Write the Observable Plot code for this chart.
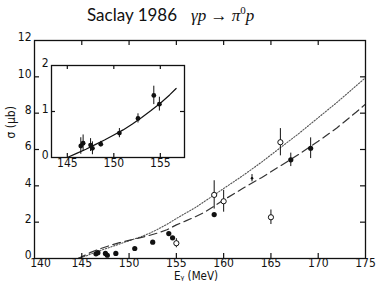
<!DOCTYPE html>
<html>
<head>
<meta charset="utf-8">
<script src="https://cdn.jsdelivr.net/npm/d3@7"></script>
<script src="https://cdn.jsdelivr.net/npm/@observablehq/plot@0.6"></script>
<style>
  html, body { margin: 0; padding: 0; background: #fff; }
  #wrap { position: relative; width: 376px; height: 286px; overflow: hidden; background: #fff; }
  #title { position: absolute; left: 87px; top: 4px; height: 24px; display: flex; align-items: baseline; white-space: nowrap; color: #111; line-height: 22px; }
  #title .t1 { font-family: Lato, "Open Sans", sans-serif; font-size: 17px; }
  #title .t2 { margin-left: 14px; font-family: "Liberation Serif", "DejaVu Serif", serif; font-size: 17px; }
  #title .t2 i { font-style: italic; }
  #title .sup { font-size: 11px; position: relative; top: -7px; }
  #main { position: absolute; left: 0; top: 30px; }
  #inset { position: absolute; left: 30px; top: 60px; }
</style>
</head>
<body>
<div id="wrap">
  <div id="title"><span class="t1">Saclay 1986</span><span class="t2"><i>γp</i> → <i>π</i><span class="sup">0</span><i>p</i></span></div>
  <div id="main"></div>
  <div id="inset"></div>
</div>
<script>
// ---- main plot axes
const xTicksMain = [145, 150, 155, 160, 165, 170, 175];
const xFirstTick = [140];
const xInnerMain = [145, 150, 155, 160, 165, 170];
const yTicksMain = [0, 2, 4, 6, 8, 10, 12];
const yInnerMain = [2, 4, 6, 8, 10];

// ---- main plot data: filled circles
const filledE = [146.5, 146.7, 147.5, 147.7, 148.6, 150.6, 152.5, 154.2, 154.6, 159.0, 167.1, 169.2];
const filledV = [0.26, 0.32, 0.28, 0.18, 0.28, 0.55, 0.9, 1.37, 1.14, 2.42, 5.43, 6.07];
const filledErr = [0, 0, 0, 0, 0, 0, 0, 0, 0, 0, 0.37, 0.57];

// open circles
const openE = [155.0, 159.0, 160.0, 165.0, 166.0];
const openV = [0.84, 3.5, 3.15, 2.27, 6.4];
const openErr = [0.25, 0.78, 0.6, 0.4, 0.75];

// small point
const smallE = [163.0];
const smallV = [4.42];
const smallErr = [0.2];

// curves
const dashedE = [144.6, 145.5, 146, 147, 148, 149, 150, 151, 152, 153, 154, 155, 156, 157, 158, 160, 162, 164, 166, 168, 170, 172, 174, 175];
const dashedV = [0, 0.22, 0.35, 0.55, 0.72, 0.87, 1.0, 1.12, 1.25, 1.4, 1.58, 1.85, 2.07, 2.3, 2.55, 3.22, 3.85, 4.45, 5.1, 5.75, 6.45, 7.2, 8.05, 8.5];
const dottedE = [144.6, 145.5, 146, 147, 148, 149, 150, 151, 152, 153, 154, 155, 156, 157, 158, 160, 162, 164, 166, 168, 170, 172, 174, 175];
const dottedV = [0, 0.15, 0.25, 0.45, 0.62, 0.8, 0.98, 1.15, 1.35, 1.6, 1.88, 2.2, 2.5, 2.8, 3.15, 3.85, 4.55, 5.3, 6.1, 6.9, 7.75, 8.6, 9.5, 9.95];

// ---- inset
const xTicksInset = [145, 150, 155];
const yTicksInset = [0, 1, 2];
const yInnerInset = [1];
const insetE = [146.45, 146.7, 147.5, 147.7, 148.6, 150.6, 152.6, 154.3, 154.9];
const insetV = [0.25, 0.31, 0.27, 0.2, 0.29, 0.53, 0.85, 1.35, 1.16];
const insetErr = [0.18, 0.18, 0.14, 0.14, 0.06, 0.1, 0.1, 0.2, 0.15];
const insetCurveE = [145, 146, 147, 148, 149, 150, 151, 152, 153, 154, 155, 156, 156.7];
const insetCurveV = [0, 0.09, 0.18, 0.28, 0.38, 0.49, 0.6, 0.73, 0.87, 1.02, 1.18, 1.36, 1.5];

const ink = "#111";
const tickFont = '"Liberation Sans Narrow", "DejaVu Sans Condensed", sans-serif';

const rows = (E, V, Err) => E.map((e, i) => ({e, v: V[i], err: Err ? Err[i] : 0}));
const filled = rows(filledE, filledV, filledErr);
const open = rows(openE, openV, openErr);
const small = rows(smallE, smallV, smallErr);
const dashed = rows(dashedE, dashedV);
const dotted = rows(dottedE, dottedV);
const bars = [...filled, ...open, ...small].filter(d => d.err > 0);

const W = 376, H = 256, mT = 10, mB = 28, mL = 34, mR = 11;
const fw = W - mL - mR, fh = H - mT - mB, tl = 5;

const main = Plot.plot({
  width: W, height: H,
  marginTop: mT, marginBottom: mB, marginLeft: mL, marginRight: mR,
  x: {domain: [140, 175]},
  y: {domain: [0, 12]},
  style: {fontFamily: tickFont, fontSize: "12px", color: ink, background: "transparent", overflow: "visible"},
  marks: [
    Plot.line(dotted, {x: "e", y: "v", stroke: "#555", strokeWidth: 1.1, strokeDasharray: "1.3,1.6"}),
    Plot.line(dashed, {x: "e", y: "v", stroke: "#333", strokeWidth: 1.2, strokeDasharray: "8,4.5"}),
    Plot.ruleX(bars, {x: "e", y1: d => d.v - d.err, y2: d => d.v + d.err, stroke: ink, strokeWidth: 1}),
    Plot.dot(filled, {x: "e", y: "v", r: 2.6, fill: ink, stroke: "none"}),
    Plot.dot(open, {x: "e", y: "v", r: 2.6, fill: "white", stroke: ink, strokeWidth: 1}),
    Plot.dot(small, {x: "e", y: "v", r: 1.3, fill: ink, stroke: "none"}),
    Plot.frame({stroke: ink, strokeWidth: 1.3}),
    Plot.tickX(xInnerMain, {x: d => d, insetTop: fh - tl, stroke: ink, strokeWidth: 1.2}),
    Plot.tickX(xInnerMain, {x: d => d, insetBottom: fh - tl, stroke: ink, strokeWidth: 1.2}),
    Plot.tickY(yInnerMain, {y: d => d, insetRight: fw - tl, stroke: ink, strokeWidth: 1.2}),
    Plot.tickY(yInnerMain, {y: d => d, insetLeft: fw - tl, stroke: ink, strokeWidth: 1.2}),
    Plot.axisX({ticks: xTicksMain, tickSize: 0, tickPadding: 0, label: null, tickFormat: d => String(d)}),
    Plot.axisX({ticks: xFirstTick, tickSize: 0, tickPadding: 0, dx: 6, label: null, tickFormat: d => String(d)}),
    Plot.axisY({ticks: yTicksMain, tickSize: 0, tickPadding: 3, label: null, dy: -3, tickFormat: d => String(d)}),
    Plot.text(["σ (μb)"], {frameAnchor: "left", rotate: -90, dx: -23, dy: -11, fontSize: 12, fill: ink}),
    Plot.text(["Eᵧ (MeV)"], {frameAnchor: "bottom", dy: 21.5, dx: -4, fontSize: 11.5, fill: ink})
  ]
});
document.getElementById("main").appendChild(main);

// inset
const iW = 160, iH = 115, iT = 5, iB = 18, iL = 21, iR = 6;
const ifw = iW - iL - iR, ifh = iH - iT - iB, itl = 4;
const ipts = rows(insetE, insetV, insetErr);
const icurve = rows(insetCurveE, insetCurveV);

const inset = Plot.plot({
  width: iW, height: iH,
  marginTop: iT, marginBottom: iB, marginLeft: iL, marginRight: iR,
  x: {domain: [143.3, 157.6]},
  y: {domain: [0, 2]},
  style: {fontFamily: tickFont, fontSize: "12px", color: ink, background: "transparent", overflow: "visible"},
  marks: [
    Plot.line(icurve, {x: "e", y: "v", stroke: ink, strokeWidth: 1.2}),
    Plot.ruleX(ipts, {x: "e", y1: d => d.v - d.err, y2: d => d.v + d.err, stroke: ink, strokeWidth: 1}),
    Plot.dot(ipts, {x: "e", y: "v", r: 2.4, fill: ink, stroke: "none"}),
    Plot.frame({stroke: ink, strokeWidth: 1.3}),
    Plot.tickX(xTicksInset, {x: d => d, insetTop: ifh - itl, stroke: ink, strokeWidth: 1.2}),
    Plot.tickX(xTicksInset, {x: d => d, insetBottom: ifh - itl, stroke: ink, strokeWidth: 1.2}),
    Plot.tickY(yInnerInset, {y: d => d, insetRight: ifw - itl, stroke: ink, strokeWidth: 1.2}),
    Plot.tickY(yInnerInset, {y: d => d, insetLeft: ifw - itl, stroke: ink, strokeWidth: 1.2}),
    Plot.axisX({ticks: xTicksInset, tickSize: 0, tickPadding: 1, label: null, tickFormat: d => String(d)}),
    Plot.axisY({ticks: yTicksInset, tickSize: 0, tickPadding: 3, label: null, dy: -2, tickFormat: d => String(d)})
  ]
});
document.getElementById("inset").appendChild(inset);
</script>
</body>
</html>
